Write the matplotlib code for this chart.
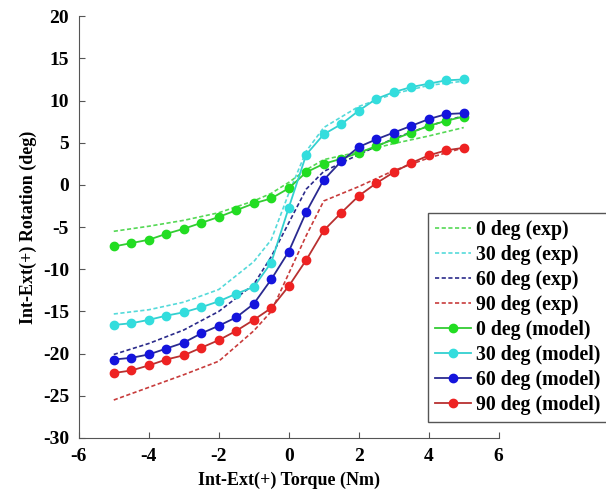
import matplotlib
matplotlib.use('Agg')
import matplotlib.pyplot as plt

# model points (every 0.5 Nm)
model_x = [-5, -4.5, -4, -3.5, -3, -2.5, -2, -1.5, -1, -0.5, 0,
           0.5, 1, 1.5, 2, 2.5, 3, 3.5, 4, 4.5, 5]
model_0 = [-7.3, -6.9, -6.5, -5.8, -5.2, -4.5, -3.8, -3.0, -2.2, -1.6, -0.4,
           1.5, 2.5, 3.1, 3.8, 4.6, 5.4, 6.2, 7.0, 7.6, 8.1]
model_30 = [-16.6, -16.4, -16.0, -15.5, -15.1, -14.5, -13.8, -12.9, -12.1, -9.2, -2.7,
            3.6, 6.0, 7.2, 8.8, 10.2, 11.0, 11.6, 12.0, 12.4, 12.5]
model_60 = [-20.7, -20.5, -20.1, -19.4, -18.7, -17.6, -16.7, -15.7, -14.1, -11.2, -7.9,
            -3.2, 0.6, 2.8, 4.5, 5.4, 6.2, 7.0, 7.8, 8.4, 8.5]
model_90 = [-22.3, -22.0, -21.4, -20.7, -20.2, -19.3, -18.4, -17.3, -16.0, -14.6, -12.0,
            -8.9, -5.4, -3.3, -1.3, 0.2, 1.5, 2.6, 3.5, 4.1, 4.4]

# experimental curves (dashed)
exp_x = [-5, -4, -3, -2, -1, -0.5, 0, 0.5, 1, 2, 3, 4, 5]
exp_0 = [-5.5, -4.9, -4.2, -3.3, -1.9, -1.0, 0.3, 1.8, 3.0, 3.9, 4.9, 5.8, 6.8]
exp_30 = [-15.3, -14.8, -13.9, -12.4, -9.1, -6.5, -1.0, 4.0, 6.8, 9.3, 10.8, 11.8, 12.3]
exp_60 = [-20.1, -18.8, -17.2, -15.0, -11.8, -8.5, -4.5, -0.5, 1.6, 3.6, 5.5, 7.0, 8.2]
exp_90 = [-25.5, -24.0, -22.5, -20.9, -17.3, -15.0, -10.5, -6.0, -1.9, -0.2, 1.7, 3.2, 4.4]

labels = ['0 deg', '30 deg', '60 deg', '90 deg']
exp_colors = ['#55d855', '#55dada', '#2a2a8a', '#c83c3c']
line_colors = ['#33cc33', '#33d0d0', '#2a2a90', '#b83030']
marker_colors = ['#22dd22', '#33dddd', '#1414dd', '#ee2222']

plt.rcParams['font.family'] = 'Liberation Serif'
plt.rcParams['font.weight'] = 'bold'
plt.rcParams['axes.unicode_minus'] = False

fig = plt.figure(figsize=(6.06, 4.91), dpi=100)
ax = fig.add_axes([0.130, 0.108, 0.693, 0.859])

for ys, lab, c in zip([exp_0, exp_30, exp_60, exp_90], labels, exp_colors):
    ax.plot(exp_x, ys, '--', color=c, lw=1.2, dashes=(2.5, 1.5), label=lab + ' (exp)')
for ys, lab, lc, mc in zip([model_0, model_30, model_60, model_90], labels, line_colors, marker_colors):
    ax.plot(model_x, ys, '-', color=lc, lw=1.3, marker='o', ms=6,
            mfc=mc, mec=mc, label=lab + ' (model)')

ax.set_xlim(-6, 6)
ax.set_ylim(-30, 20)
ax.set_xticks([-6, -4, -2, 0, 2, 4, 6])
ax.set_yticks([-30, -25, -20, -15, -10, -5, 0, 5, 10, 15, 20])
ax.spines['top'].set_visible(False)
ax.spines['right'].set_visible(False)
ax.spines['left'].set_color('#555555')
ax.spines['bottom'].set_color('#555555')
ax.tick_params(direction='in', length=4, color='#555555', labelsize=14, pad=7)
for t in ax.get_xticklabels() + ax.get_yticklabels():
    t.set_fontweight('bold')

ax.set_xlabel('Int-Ext(+) Torque (Nm)', fontsize=13, fontweight='bold', labelpad=5)
ax.set_ylabel('Int-Ext(+) Rotation (deg)', fontsize=13, fontweight='bold', labelpad=4)

leg = ax.legend(loc='upper left', bbox_to_anchor=(0.706, 0.566), bbox_transform=fig.transFigure,
                borderaxespad=0, fancybox=False, framealpha=1, edgecolor='#555555',
                handlelength=1.8, handletextpad=0.3, labelspacing=0.25, borderpad=0.35,
                prop={'weight': 'bold', 'size': 14.3})
leg.get_frame().set_linewidth(1.0)

fig.savefig('out.png', dpi=100)
